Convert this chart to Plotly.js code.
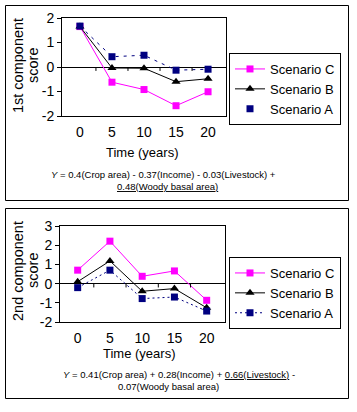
<!DOCTYPE html>
<html><head><meta charset="utf-8">
<script src="https://cdn.plot.ly/plotly-3.0.1.min.js"></script>
<style>html,body{margin:0;padding:0;background:#fff;}#chart{width:357px;height:412px;}</style>
</head><body><div id="chart"></div>
<script>
// ---- data ----
const years = [0, 5, 10, 15, 20];
const seriesNames = ["Scenario C", "Scenario B", "Scenario A"];
// 1st component score
const pc1C = [1.65, -0.62, -0.92, -1.58, -1.01];
const pc1B = [1.65, -0.04, -0.05, -0.60, -0.48];
const pc1A = [1.67, 0.42, 0.48, -0.13, -0.09];
// 2nd component score
const pc2C = [0.70, 2.21, 0.38, 0.66, -0.87];
const pc2B = [0.10, 1.18, -0.40, -0.26, -1.26];
const pc2A = [-0.21, 0.70, -0.78, -0.70, -1.43];
const yTicks1 = [-2, -1, 0, 1, 2];
const yTicks2 = [-2, -1, 0, 1, 2, 3];
const yTitle1 = ["1st component", "score"];
const yTitle2 = ["2nd component", "score"];
const xTitle = "Time (years)";
const eq1 = ["<i>Y</i> = 0.4(Crop area) - 0.37(Income) - 0.03(Livestock) +", "<u>0.48(Woody basal area)</u>"];
const eq2 = ["<i>Y</i> = 0.41(Crop area) + 0.28(Income) + <u>0.66(Livestock)</u> -", "0.07(Woody basal area)"];

// ---- helpers ----
const W = 357, H = 412;
const px = v => v / W;
const py = v => 1 - v / H;
const FONT = "Liberation Sans, Arial, sans-serif";
const MAG = "#FF00FF", BLK = "#000000", NAVY = "#000080";

function traces(c, b, a, xa, ya, lg, aLineInLegend, aDash) {
  const t = [];
  t.push({x: years, y: c, name: seriesNames[0], xaxis: xa, yaxis: ya, legend: lg, mode: "lines+markers",
    line: {color: MAG, width: 1}, marker: {symbol: "square", size: 7, color: MAG}});
  t.push({x: years, y: b, name: seriesNames[1], xaxis: xa, yaxis: ya, legend: lg, mode: "lines+markers",
    line: {color: BLK, width: 1}, marker: {symbol: "triangle-up", size: 8, color: BLK}});
  if (aLineInLegend) {
    t.push({x: years, y: a, name: seriesNames[2], xaxis: xa, yaxis: ya, legend: lg, mode: "lines+markers",
      line: {color: NAVY, width: 1, dash: aDash}, marker: {symbol: "square", size: 7, color: NAVY}});
  } else {
    t.push({x: years, y: a, name: seriesNames[2], xaxis: xa, yaxis: ya, showlegend: false, mode: "lines",
      line: {color: NAVY, width: 1, dash: aDash}, hoverinfo: "skip"});
    t.push({x: years, y: a, name: seriesNames[2], xaxis: xa, yaxis: ya, legend: lg, mode: "markers",
      marker: {symbol: "square", size: 7, color: NAVY}});
  }
  return t;
}

const data = [].concat(
  traces(pc1C, pc1B, pc1A, "x", "y", "legend", false, "3px,5px"),
  traces(pc2C, pc2B, pc2A, "x2", "y2", "legend2", true, "2px,3px")
);

const axFont = {family: FONT, size: 14, color: "#000"};
function xax(dom, anchor, range) {
  return {domain: dom, anchor: anchor, range: range, tickvals: years, ticktext: years.map(String),
    showgrid: false, zeroline: false, showline: true, mirror: true, linecolor: "#000", linewidth: 1,
    ticks: "", tickfont: axFont, ticklabelstandoff: 3, fixedrange: true};
}
function yax(dom, anchor, range, tv) {
  return {domain: dom, anchor: anchor, range: range, tickvals: tv, ticktext: tv.map(String),
    showgrid: false, zeroline: true, zerolinecolor: "#000", zerolinewidth: 1,
    showline: true, mirror: true, linecolor: "#000", linewidth: 1,
    ticks: "outside", ticklen: 4, tickcolor: "#000", tickwidth: 1, tickfont: axFont, fixedrange: true};
}

// tick marks on the zero line, between categories
const shapes = [];
function zeroTicks(xr, yr, len) {
  for (let i = 0; i < years.length - 1; i++) {
    const xm = (years[i] + years[i + 1]) / 2;
    shapes.push({type: "line", xref: xr, yref: yr, x0: xm, x1: xm, y0: 0, y1: -len, line: {color: "#000", width: 1}});
  }
}
zeroTicks("x", "y", 0.16);
zeroTicks("x2", "y2", 0.2);
// outer frames
shapes.push({type: "rect", xref: "paper", yref: "paper", x0: px(5.5), x1: px(348.5), y0: py(5.5), y1: py(200.5), line: {color: "#000", width: 1}});
shapes.push({type: "rect", xref: "paper", yref: "paper", x0: px(5.5), x1: px(348.5), y0: py(208.5), y1: py(398.5), line: {color: "#000", width: 1}});

const eqFont = {family: FONT, size: 9.5, color: "#000"};
const titleFont = {family: FONT, size: 14.5, color: "#000"};
const xtFont = {family: FONT, size: 13, color: "#000"};
function ann(x, y, text, font, angle) {
  return {xref: "paper", yref: "paper", x: px(x), y: py(y), text: text, textangle: angle || 0, showarrow: false,
    font: font, xanchor: "center", yanchor: "middle"};
}
const annotations = [
  ann(18, 66, yTitle1[0], titleFont, -90),
  ann(33, 66, yTitle1[1], titleFont, -90),
  ann(18, 271, yTitle2[0], titleFont, -90),
  ann(33, 271, yTitle2[1], titleFont, -90),
  ann(142, 152, xTitle, xtFont),
  ann(139, 353, xTitle, xtFont),
  ann(163, 174, eq1[0], eqFont),
  ann(167, 186, eq1[1], eqFont),
  ann(179, 374, eq2[0], eqFont),
  ann(168, 386, eq2[1], eqFont)
];

const legFont = {family: FONT, size: 13, color: "#000"};
const layout = {
  width: W, height: H, margin: {l: 0, r: 0, t: 0, b: 0},
  paper_bgcolor: "#fff", plot_bgcolor: "#fff", showlegend: true,
  font: {family: FONT, color: "#000"},
  xaxis: xax([px(62), px(226)], "y", [-2.8, 22.8]),
  yaxis: yax([py(116), py(18)], "x", [-2, 2], yTicks1),
  xaxis2: xax([px(60), px(225)], "y2", [-2.74, 22.84]),
  yaxis2: yax([py(322), py(226)], "x2", [-2, 3], yTicks2),
  legend: {x: px(229), y: py(53), xanchor: "left", yanchor: "top", bordercolor: "#000", borderwidth: 1,
    bgcolor: "#fff", font: legFont, traceorder: "normal", tracegroupgap: 0},
  legend2: {x: px(229), y: py(257), xanchor: "left", yanchor: "top", bordercolor: "#000", borderwidth: 1,
    bgcolor: "#fff", font: legFont, traceorder: "normal", tracegroupgap: 0},
  shapes: shapes,
  annotations: annotations
};

Plotly.newPlot("chart", data, layout, {displayModeBar: false, staticPlot: true});
</script></body></html>
